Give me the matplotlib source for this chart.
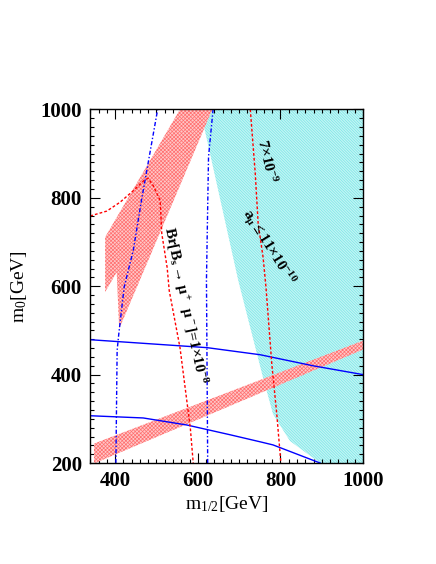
import matplotlib
matplotlib.use('Agg')
import matplotlib.pyplot as plt
from matplotlib.patches import Polygon
from matplotlib.ticker import MultipleLocator

plt.rcParams['font.family'] = ['Liberation Serif', 'DejaVu Serif']
plt.rcParams['mathtext.fontset'] = 'custom'
plt.rcParams['mathtext.rm'] = 'Liberation Serif'
plt.rcParams['mathtext.default'] = 'regular'
plt.rcParams['hatch.linewidth'] = 0.5

# excluded / allowed regions (m_1/2, m_0 in GeV)
cyan_x = [606, 1000, 1000, 896, 823, 782, 758, 698]
cyan_y = [1000, 1000, 200, 200, 250, 311, 393, 613]

band_up_x = [557, 635, 410, 404, 376, 376]
band_up_y = [1000, 1000, 504, 632, 587, 711]

band_low_x = [349, 1000]
band_low_bot = [199, 457]
band_low_top = [244, 477]

# contours
blue_up_x = [340, 623, 751, 879, 1000]
blue_up_y = [479, 461, 445, 420, 400]
blue_low_x = [340, 468, 574, 678, 751, 782, 896]
blue_low_y = [307, 302, 286, 264, 248, 241, 200]

dd_left_x = [402, 405, 409, 422, 444, 464, 503]
dd_left_y = [200, 455, 492, 598, 681, 795, 1000]
dd_right_x = [624, 621, 626, 637]
dd_right_y = [200, 613, 893, 1000]

br_x = [340, 380, 412, 444, 472, 480, 492, 509, 513, 526, 531, 557, 582, 589]
br_y = [759, 770, 790, 816, 841, 844, 828, 794, 719, 642, 590, 461, 279, 200]
br7_x = [727, 739, 746, 758, 765, 779, 791, 801]
br7_y = [1000, 855, 742, 665, 597, 424, 311, 200]

fig = plt.figure(figsize=(4.36, 5.64), dpi=100)
ax = fig.add_axes([0.207, 0.179, 0.626, 0.627])

ax.add_patch(Polygon(list(zip(cyan_x, cyan_y)), closed=True,
                     facecolor='#c4f5f5', edgecolor='#78e6e6',
                     linewidth=0, hatch='\\' * 12, zorder=1))
ax.add_patch(Polygon(list(zip(band_up_x, band_up_y)), closed=True,
                     facecolor='#ffc8c8', edgecolor='#ff7070',
                     linewidth=0, hatch='x' * 9, zorder=2))
ax.fill_between(band_low_x, band_low_bot, band_low_top,
                facecolor='#ffc8c8', edgecolor='#ff7070',
                linewidth=0, hatch='x' * 9, zorder=2)

ax.plot(blue_up_x, blue_up_y, color='#0000ff', lw=1.0, zorder=4)
ax.plot(blue_low_x, blue_low_y, color='#0000ff', lw=1.0, zorder=4)
ax.plot(dd_left_x, dd_left_y, color='#0000ff', lw=1.0,
        linestyle=(0, (3, 1.5, 1, 1.5)), zorder=4)
ax.plot(dd_right_x, dd_right_y, color='#0000ff', lw=1.0,
        linestyle=(0, (3, 1.5, 1, 1.5)), zorder=4)
ax.plot(br_x, br_y, color='#ff0000', lw=1.0, linestyle=(0, (2, 1.5)), zorder=4)
ax.plot(br7_x, br7_y, color='#ff0000', lw=1.0, linestyle=(0, (2, 1.5)), zorder=4)

ax.text(569, 556, r'Br[B$_s$$\rightarrow\mu^+\ \mu^-$]=1$\times$10$^{-8}$',
        rotation=-78, rotation_mode='anchor', ha='center', va='center',
        fontsize=11, fontweight='bold', zorder=5)
ax.text(768, 883, r'7$\times$10$^{-9}$', rotation=-77, rotation_mode='anchor',
        ha='center', va='center', fontsize=11, fontweight='bold', zorder=5)
ax.text(770, 688, r'a$_\mu$$\leq$11$\times$10$^{-10}$', rotation=-58,
        rotation_mode='anchor', ha='center', va='center',
        fontsize=11, fontweight='bold', zorder=5)

ax.set_xlim(340, 1000)
ax.set_ylim(200, 1000)
ax.set_xticks([400, 600, 800, 1000])
ax.set_yticks([200, 400, 600, 800, 1000])
ax.xaxis.set_minor_locator(MultipleLocator(20))
ax.yaxis.set_minor_locator(MultipleLocator(20))
ax.tick_params(which='both', direction='in', top=True, right=True, width=0.8)
ax.tick_params(which='major', length=7, labelsize=15, pad=6)
ax.tick_params(which='minor', length=3)
for lab in ax.get_xticklabels() + ax.get_yticklabels():
    lab.set_fontweight('bold')
for sp in ax.spines.values():
    sp.set_linewidth(1.0)
    sp.set_zorder(6)

ax.set_xlabel(r'm$_{1/2}$[GeV]', fontsize=14, labelpad=2)
ax.set_ylabel(r'm$_0$[GeV]', fontsize=14, labelpad=8)

fig.savefig('out.png', dpi=100)
